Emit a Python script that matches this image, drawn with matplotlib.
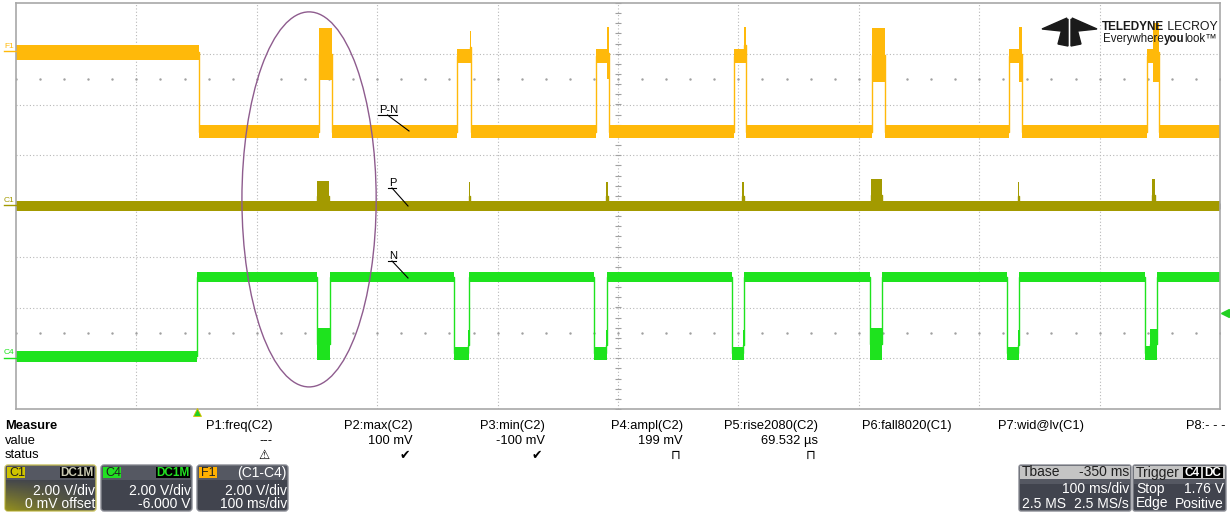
import numpy as np
import matplotlib.pyplot as plt
from matplotlib.patches import Ellipse, FancyBboxPatch, Polygon, Rectangle

plt.rcParams['font.family'] = ['Liberation Sans Narrow', 'Liberation Sans', 'DejaVu Sans']

W, H = 1230, 513

# time base: 100 ms/div, 10 div, trigger 1.5 div from left
t_left, t_right = -150, 850

# C1 = P (2 V/div, 0 V offset)
c1_base = (-0.2, 0.2)
c1_start = [100, 226, 340, 453, 560, 682, 793.5]
c1_end = [110, 227.3, 341.3, 454.3, 569, 683.3, 796]
c1_top = [1.0, 0.95, 0.95, 0.95, 1.05, 0.95, 1.05]

# C4 = N (2 V/div, -6 V offset)
c4_pre = (-0.15, 0.3)
c4_base = (3.0, 3.4)
c4_step = 0
c4_start = [100, 214, 330, 445, 559, 673, 788]
c4_tail = [111, 225, 340, 454, 569, 682, 792]
c4_end = [111, 226, 341, 455, 569, 683, 798]
c4_dip_lo = [-0.05, -0.05, -0.05, -0.05, -0.05, -0.05, -0.05]
c4_dip_hi = [1.2, 0.45, 0.45, 0.45, 1.2, 0.45, 0.5]
c4_tail_hi = [1.2, 1.1, 1.1, 1.1, 1.2, 1.1, 1.15]

# F1 = P-N (C1-C4, 2 V/div, +6 V offset)
f1_pre = (-0.25, 0.35)
f1_base = (-3.33, -2.82)
f1_step = 2
f1_start = [102, 216, 332, 446, 561, 675, 789]
f1_tail = [112.5, 227, 341, 455, 571.8, 683, 794]
f1_end = [112.5, 228, 342.5, 456.3, 571.8, 685.5, 799.3]
f1_main_lo = [-1.03, -0.36, -0.36, -0.36, -1.1, -0.36, -0.36]
f1_main_hi = [1.0, 0.2, 0.2, 0.2, 1.0, 0.2, 0.2]
f1_tail_lo = [-1.03, -0.36, -1.0, -0.36, -1.1, -1.1, -1.1]
f1_tail_hi = [1.0, 0.9, 1.05, 1.05, 1.0, 1.05, 1.2]

col_f1 = '#FFB90A'
col_c1 = '#A39A00'
col_c4 = '#1EE31E'


def band(pre, base, step, starts, tails, ends, lo1, hi1, lo2, hi2):
    t = [t_left, step]
    lo = [pre[0], base[0]]
    hi = [pre[1], base[1]]
    for s, m, e, a, b, c, d in zip(starts, tails, ends, lo1, hi1, lo2, hi2):
        t += [s, m, e]
        lo += [a, c, base[0]]
        hi += [b, d, base[1]]
    t.append(t_right)
    lo.append(base[0])
    hi.append(base[1])
    return np.array(t, float), np.array(lo), np.array(hi)


fig = plt.figure(figsize=(W / 100, H / 100), dpi=100)
fig.patch.set_facecolor('white')
ax = fig.add_axes([16 / W, (H - 409) / H, (1220 - 16) / W, (409 - 3) / H])
ax.set_xlim(t_left, t_right)
ax.set_ylim(-4, 4)
ax.set_xticks([])
ax.set_yticks([])
for s in ax.spines.values():
    s.set_color('#A8A8A8')
    s.set_linewidth(1.2)

# graticule
for i in range(1, 10):
    ax.axvline(t_left + 100 * i, color='#B8B8B8', lw=0.8, ls=(0, (1, 2)), zorder=0)
for j in range(-3, 4):
    ax.axhline(j, color='#B8B8B8', lw=0.8, ls=(0, (1, 2)), zorder=0)
xt = np.arange(t_left, t_right + 1, 20, dtype=float)
yt = np.arange(-4, 4.01, 0.2)
ax.plot(np.full_like(yt, 350.0), yt, ls='none', marker='_', ms=5, color='#A0A0A0', mew=0.8, zorder=0)
ax.plot(xt, np.zeros_like(xt), ls='none', marker='|', ms=5, color='#A0A0A0', mew=0.8, zorder=0)
for yy in (2.5, -2.5):
    ax.plot(xt, np.full_like(xt, yy), ls='none', marker='.', ms=1.5, color='#A0A0A0', zorder=0)

# traces
traces = [
    (band(f1_pre, f1_base, f1_step, f1_start, f1_tail, f1_end,
          f1_main_lo, f1_main_hi, f1_tail_lo, f1_tail_hi), 6.0, col_f1),
    (band(c1_base, c1_base, t_left, c1_start, c1_end, c1_end,
          [c1_base[0]] * 7, c1_top, [c1_base[0]] * 7, c1_top), 0.0, col_c1),
    (band(c4_pre, c4_base, c4_step, c4_start, c4_tail, c4_end,
          c4_dip_lo, c4_dip_hi, c4_dip_lo, c4_tail_hi), -6.0, col_c4),
]
for (t, lo, hi), off, col in traces:
    lo_d = (lo + off) / 2.0
    hi_d = (hi + off) / 2.0
    ax.fill_between(t, lo_d, hi_d, step='post', color=col, lw=0, zorder=2)
    ax.plot(t, (lo_d + hi_d) / 2, drawstyle='steps-post', color=col, lw=1, zorder=2)

# highlight ellipse
ax.add_patch(Ellipse((93.4, 0.13), 111.5, 7.39, fill=False, ec='#8E5C8E', lw=1, zorder=3))

# overlay in pixel coordinates
ov = fig.add_axes([0, 0, 1, 1], zorder=5)
ov.set_xlim(0, W)
ov.set_ylim(H, 0)
ov.axis('off')
ov.patch.set_visible(False)

# trace labels with leader lines
for txt, x, y, x2, y2 in [('P-N', 379, 110, 409, 131), ('P', 389, 183, 408, 206), ('N', 389, 256, 408, 278)]:
    ov.text(x, y, txt, fontsize=8, ha='left', va='center', color='black')
    w = 19 if txt == 'P-N' else 8
    ov.plot([x - 1, x - 1 + w], [y + 5, y + 5], color='black', lw=0.8)
    ov.plot([x + w / 2 - 1, x2], [y + 5, y2], color='black', lw=0.8)

# channel markers at the left edge
for txt, y, col in [('F1', 51, col_f1), ('C1', 205, col_c1), ('C4', 358, col_c4)]:
    ov.text(4, y - 5, txt, fontsize=6, color=col, ha='left', va='center')
    ov.plot([4, 16], [y, y], color=col, lw=1)

# trigger markers
ov.plot([1225], [313], marker='<', ms=6, color='#22D022', ls='none')
ov.plot([197], [412], marker='^', ms=6, color='#22D022', mec='#E0C000', mew=0.6, ls='none')

# logo
ov.add_patch(Polygon([(1042, 29), (1067, 18), (1061, 31)], color='#1A1A1A'))
ov.add_patch(Polygon([(1097, 29), (1072, 18), (1078, 31)], color='#1A1A1A'))
ov.add_patch(Polygon([(1063, 25), (1068, 19), (1068, 46), (1058, 44)], color='#1A1A1A'))
ov.add_patch(Polygon([(1071, 19), (1076, 25), (1081, 44), (1071, 46)], color='#1A1A1A'))
t1 = ov.text(1102, 27, 'TELEDYNE', fontsize=8.5, weight='bold', color='#1A1A1A', va='center')
ov.annotate(' LECROY', xy=(1, 0.5), xycoords=t1, fontsize=8.8, color='#1A1A1A', va='center')
t2 = ov.text(1103, 39, 'Everywhere', fontsize=8.3, color='#1A1A1A', va='center')
t3 = ov.annotate('you', xy=(1, 0.5), xycoords=t2, fontsize=8.3, weight='bold', color='#1A1A1A', va='center')
ov.annotate('look\u2122', xy=(1, 0.5), xycoords=t3, fontsize=8.3, color='#1A1A1A', va='center')

# measurement table
meas_names = ['P1:freq(C2)', 'P2:max(C2)', 'P3:min(C2)', 'P4:ampl(C2)', 'P5:rise2080(C2)',
              'P6:fall8020(C1)', 'P7:wid@lv(C1)', 'P8:- - -']
meas_values = ['---', '100 mV', '-100 mV', '199 mV', '69.532 µs', '', '', '']
meas_status = ['\u26a0', '\u2714', '\u2714', '\u2293', '\u2293', '', '', '']
meas_right = [273, 413, 545, 683, 818, 952, 1084, 1225]

fs = 9.3
ov.text(5, 426, 'Measure', fontsize=fs, weight='bold', va='center')
ov.text(5, 441, 'value', fontsize=fs, va='center')
ov.text(5, 455, 'status', fontsize=fs, va='center')
for name, val, st, xr in zip(meas_names, meas_values, meas_status, meas_right):
    ov.text(xr, 426, name, fontsize=fs, ha='right', va='center')
    ov.text(xr, 441, val, fontsize=fs, ha='right', va='center')
    ov.text(xr - 3, 455, st, fontsize=9, ha='right', va='center', family='DejaVu Sans')

# channel descriptor boxes
box_x = [5, 101, 197]
box_tag = ['C1', 'C4', 'F1']
box_tag_col = ['#CFC400', '#22E022', '#FFB000']
box_right_tag = ['DC1M', 'DC1M', '(C1-C4)']
box_line1 = ['2.00 V/div', '2.00 V/div', '2.00 V/div']
box_line2 = ['0 mV offset', '-6.000 V', '100 ms/div']
for i, (x, tg, tc, rt, l1, l2) in enumerate(zip(box_x, box_tag, box_tag_col, box_right_tag,
                                                  box_line1, box_line2)):
    bx = FancyBboxPatch((x, 465), 91, 46, boxstyle='round,pad=0,rounding_size=3',
                        fc='#41444E', ec='#C8C060' if i == 0 else '#8A8C94', lw=1)
    ov.add_patch(bx)
    ov.add_patch(Rectangle((x + 1, 466), 89, 14, fc='#555862', ec='none'))
    if i == 0:
        grad = np.zeros((20, 40, 4))
        gx = np.linspace(1, 0, 40)[None, :]
        gy = np.linspace(0, 1, 20)[:, None]
        grad[..., 0] = 0.62
        grad[..., 1] = 0.60
        grad[..., 2] = 0.10
        grad[..., 3] = np.clip(gx * gy, 0, 1) * 0.9
        im = ov.imshow(grad, extent=(x, x + 91, 511, 478), aspect='auto', zorder=2)
        im.set_clip_path(bx)
    ov.add_patch(Rectangle((x + 2, 467), 18, 11, fc=tc, ec='none', zorder=3))
    ov.text(x + 4, 472.5, tg, fontsize=9, color='#202020', va='center', zorder=4)
    if rt.startswith('DC'):
        ov.add_patch(Rectangle((x + 55, 467), 34, 11, fc='black', ec='none', zorder=3))
        ov.text(x + 72, 472.5, rt, fontsize=8.5, weight='bold', ha='center', va='center',
                color='#C8C8B0' if i == 0 else '#22E022', zorder=4)
    else:
        ov.text(x + 89, 472.5, rt, fontsize=10, ha='right', va='center', color='white', zorder=4)
    ov.text(x + 90, 491, l1, fontsize=10, ha='right', va='center', color='white', zorder=4)
    ov.text(x + 90, 503.5, l2, fontsize=10, ha='right', va='center', color='white', zorder=4)

# timebase and trigger boxes
for x, w in [(1019, 112), (1133, 93)]:
    ov.add_patch(FancyBboxPatch((x, 465), w, 46, boxstyle='round,pad=0,rounding_size=2',
                                fc='#41444E', ec='#8A8C94', lw=1))
    ov.add_patch(Rectangle((x + 1, 466), w - 2, 13, fc='#C4C4C4', ec='none'))
    ov.add_patch(Rectangle((x + 1, 479), w - 2, 5, fc='#555862', ec='none'))

ov.text(1022, 472.5, 'Tbase', fontsize=10, va='center', color='#202020')
ov.text(1129, 472.5, '-350 ms', fontsize=10, ha='right', va='center', color='#202020')
ov.text(1129, 489, '100 ms/div', fontsize=10, ha='right', va='center', color='white')
ov.text(1022, 503.5, '2.5 MS', fontsize=10, va='center', color='white')
ov.text(1129, 503.5, '2.5 MS/s', fontsize=10, ha='right', va='center', color='white')

ov.text(1136, 472.5, 'Trigger', fontsize=10, va='center', color='#202020')
ov.add_patch(Rectangle((1183, 467), 18, 11, fc='black', ec='none', zorder=3))
ov.text(1192, 472.5, 'C4', fontsize=8.5, weight='bold', ha='center', va='center', color='white', zorder=4)
ov.add_patch(Rectangle((1203, 467), 20, 11, fc='black', ec='none', zorder=3))
ov.text(1213, 472.5, 'DC', fontsize=8.5, weight='bold', ha='center', va='center', color='white', zorder=4)
ov.text(1136, 489, 'Stop', fontsize=10, va='center', color='white')
ov.text(1224, 489, '1.76 V', fontsize=10, ha='right', va='center', color='white')
ov.text(1136, 503.5, 'Edge', fontsize=10, va='center', color='white')
ov.text(1224, 503.5, 'Positive', fontsize=10, ha='right', va='center', color='white')

fig.savefig('out.png', dpi=100)
